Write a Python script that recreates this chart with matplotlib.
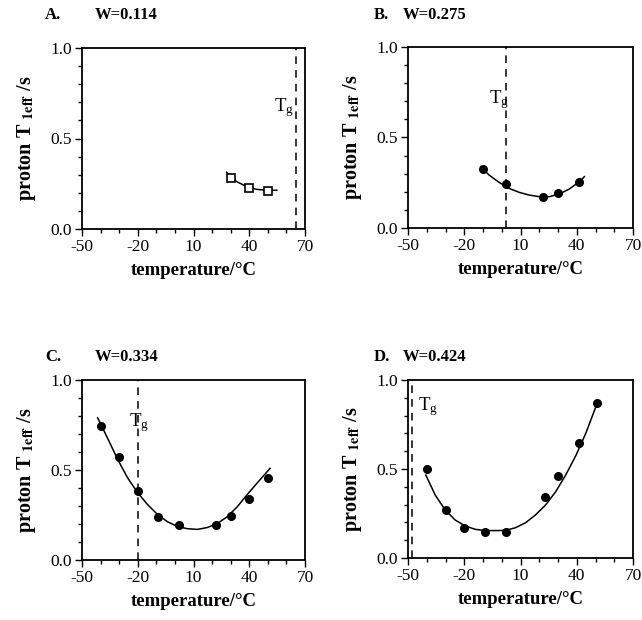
import matplotlib
matplotlib.use("Agg")
import matplotlib.pyplot as plt
import matplotlib.ticker as ticker

plt.rcParams['font.family'] = ['Liberation Serif', 'DejaVu Serif']
plt.rcParams['mathtext.fontset'] = 'stix'
plt.rcParams['axes.unicode_minus'] = False

# measured points (temperature / degC, proton T1eff / s)
temp_a = [30, 40, 50]
t1_a = [0.284, 0.228, 0.210]
temp_b = [-10, 2, 22, 30, 41]
t1_b = [0.324, 0.241, 0.173, 0.192, 0.254]
temp_c = [-40, -30, -20, -9, 2, 22, 30, 40, 50]
t1_c = [0.746, 0.572, 0.381, 0.237, 0.194, 0.194, 0.246, 0.341, 0.454]
temp_d = [-40, -30, -20, -9, 2, 23, 30, 41, 51]
t1_d = [0.500, 0.268, 0.167, 0.144, 0.144, 0.343, 0.463, 0.648, 0.869]

# fitted curves
fit_temp_a = [27.8, 33.2, 38.6, 44.0, 49.4, 54.8]
fit_t1_a = [0.313, 0.262, 0.234, 0.219, 0.214, 0.214]
fit_temp_b = [-11.2, -6.8, -1.4, 3.9, 9.3, 14.6, 20.0, 25.4, 30.7, 36.0, 41.4, 44.1]
fit_t1_b = [0.339, 0.293, 0.252, 0.219, 0.197, 0.182, 0.173, 0.173, 0.188, 0.215, 0.256, 0.284]
fit_temp_c = [-41.6, -36.2, -30.9, -25.5, -20.2, -14.8, -9.5, -4.1, 1.2, 6.6, 12.0,
              17.3, 22.7, 28.0, 33.4, 38.7, 44.1, 51.2]
fit_t1_c = [0.790, 0.676, 0.561, 0.457, 0.376, 0.309, 0.254, 0.213, 0.187, 0.174, 0.170,
            0.180, 0.202, 0.239, 0.294, 0.361, 0.426, 0.509]
fit_temp_d = [-40.5, -35.5, -30.2, -24.8, -19.5, -14.1, -8.8, -3.4, 2.0, 7.3, 12.7,
              18.0, 23.4, 28.8, 34.1, 39.5, 44.8, 50.2]
fit_t1_d = [0.466, 0.354, 0.270, 0.213, 0.180, 0.161, 0.154, 0.154, 0.155, 0.170, 0.198,
            0.242, 0.298, 0.373, 0.466, 0.575, 0.700, 0.850]

# glass transition temperatures
tg = {'A': 65, 'B': 2.5, 'C': -20, 'D': -48}
# where the T_g label sits (x left, baseline y)
tg_label = {'A': (53.5, 0.65), 'B': (-7.0, 0.69), 'C': (-24.5, 0.745), 'D': (-44.5, 0.83)}

water = {'A': '0.114', 'B': '0.275', 'C': '0.334', 'D': '0.424'}
x_ticks = [-50, -20, 10, 40, 70]
y_ticks = [0.0, 0.5, 1.0]

W, H = 642, 620
fig = plt.figure(figsize=(W / 100, H / 100), dpi=100)

# axes boxes in pixels: left, top, right, bottom
boxes = {
    'A': (82, 48, 305, 229),
    'B': (408, 47, 633, 228),
    'C': (82, 380, 305, 560),
    'D': (408, 380, 633, 558),
}
# title pieces in pixels: letter x, "W=" x, centre y
title_pos = {'A': (45, 95, 15), 'B': (374, 403, 15), 'C': (45, 95, 357), 'D': (374, 403, 357)}


def make_axes(key):
    l, t, r, b = boxes[key]
    ax = fig.add_axes([l / W, 1 - b / H, (r - l) / W, (b - t) / H])
    ax.set_xlim(-50, 70)
    ax.set_ylim(0, 1)
    ax.xaxis.set_major_locator(ticker.FixedLocator(x_ticks))
    ax.xaxis.set_minor_locator(ticker.MultipleLocator(10))
    ax.yaxis.set_major_locator(ticker.FixedLocator(y_ticks))
    ax.yaxis.set_minor_locator(ticker.MultipleLocator(0.1))
    ax.yaxis.set_major_formatter(ticker.FormatStrFormatter('%.1f'))
    ax.tick_params(which='both', direction='out', width=1.0, labelsize=12.5, pad=2)
    ax.tick_params(which='major', length=5)
    ax.tick_params(which='minor', length=3)
    for s in ax.spines.values():
        s.set_linewidth(1.3)
    ax.set_xlabel('temperature/°C', fontsize=13.5, fontweight='bold', labelpad=5)
    ax.set_ylabel(r'proton T $_{\mathbf{1eff}}$ /s', fontsize=14.5, fontweight='bold', labelpad=9)

    xa, xw, yt = title_pos[key]
    fig.text(xa / W, 1 - yt / H, key + '.', fontsize=12, fontweight='bold', va='center')
    fig.text(xw / W, 1 - yt / H, 'W=' + water[key], fontsize=12, fontweight='bold', va='center')

    ax.axvline(tg[key], color='black', lw=1.1, ls=(0, (5, 4)))
    tx, ty = tg_label[key]
    ax.text(tx, ty, r'$\mathregular{T_g}$', fontsize=13.5, va='baseline', ha='left')
    return ax


ax = make_axes('A')
ax.plot(fit_temp_a, fit_t1_a, color='black', lw=1.1)
ax.plot(temp_a, t1_a, 's', mfc='white', mec='black', mew=1.2, ms=6)

ax = make_axes('B')
ax.plot(fit_temp_b, fit_t1_b, color='black', lw=1.1)
ax.plot(temp_b, t1_b, 'o', color='black', ms=5.5)

ax = make_axes('C')
ax.plot(fit_temp_c, fit_t1_c, color='black', lw=1.1)
ax.plot(temp_c, t1_c, 'o', color='black', ms=5.5)

ax = make_axes('D')
ax.plot(fit_temp_d, fit_t1_d, color='black', lw=1.1)
ax.plot(temp_d, t1_d, 'o', color='black', ms=5.5)

fig.savefig('out.png', dpi=100)
